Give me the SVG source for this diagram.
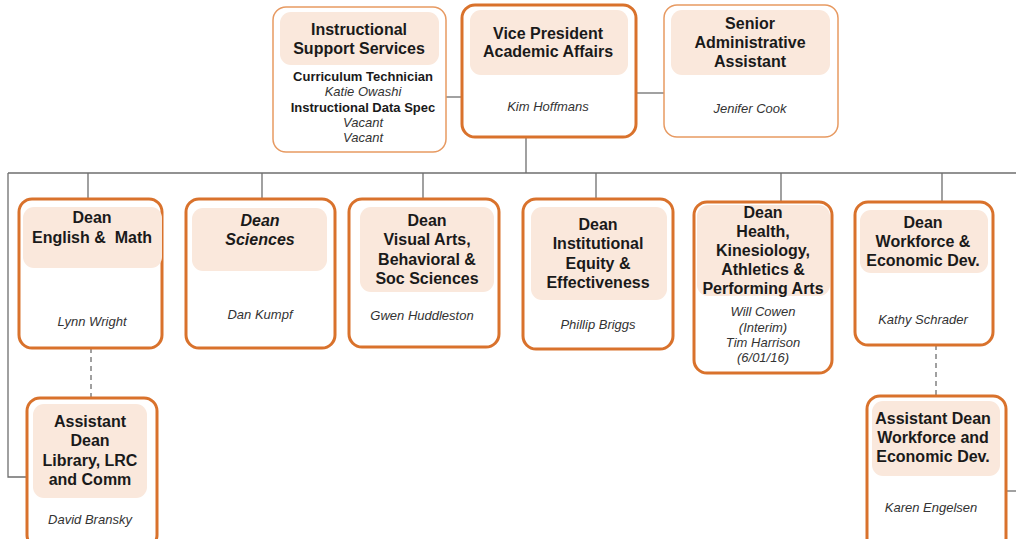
<svg xmlns="http://www.w3.org/2000/svg" width="1016" height="539" viewBox="0 0 1016 539">
<style>
.box{fill:#fff;stroke:#d9722c;stroke-width:3}
.thin{fill:#fff;stroke:#e79a62;stroke-width:1.5}
.hd{fill:#fae8dc}
.t{font-family:"Liberation Sans",Arial,sans-serif;font-weight:bold;font-size:16px;fill:#1a1a1a;text-anchor:middle}
.ti{font-style:italic}
.s{font-family:"Liberation Sans",Arial,sans-serif;font-weight:bold;font-size:13px;fill:#1a1a1a;text-anchor:middle}
.n{font-family:"Liberation Sans",Arial,sans-serif;font-style:italic;font-size:13px;fill:#333;text-anchor:middle}
.c{fill:none;stroke:#6e6e6e;stroke-width:1.3}
.d{fill:none;stroke:#6e6e6e;stroke-width:1.3;stroke-dasharray:5,4}
</style>
<rect width="1016" height="539" fill="#fff"/>
<g id="connectors">
<path class="c" d="M446 97H462"/>
<path class="c" d="M636 93H664"/>
<path class="c" d="M526 137V173"/>
<path class="c" d="M8 173H1016"/>
<path class="c" d="M8 173V477H27"/>
<path class="c" d="M88 173V199"/>
<path class="c" d="M262 173V199"/>
<path class="c" d="M423 173V199"/>
<path class="c" d="M596 173V199"/>
<path class="c" d="M781 173V202"/>
<path class="c" d="M942 173V202"/>
<path class="c" d="M1006 491H1016"/>
<path class="d" d="M91 348V398"/>
<path class="d" d="M936 345V395"/>
</g>
<g id="iss">
<rect class="thin" x="273" y="7" width="173" height="145" rx="13"/>
<rect class="hd" x="280" y="12" width="159" height="53" rx="11"/>
<text class="t" x="359" y="35">Instructional</text>
<text class="t" x="359" y="54">Support Services</text>
<text class="s" x="363" y="81">Curriculum Technician</text>
<text class="n" x="363" y="96">Katie Owashi</text>
<text class="s" x="363" y="112">Instructional Data Spec</text>
<text class="n" x="363" y="127">Vacant</text>
<text class="n" x="363" y="142">Vacant</text>
</g>
<g id="vp">
<rect class="box" x="462" y="5" width="174" height="132" rx="13"/>
<rect class="hd" x="470" y="10" width="158" height="65" rx="11"/>
<text class="t" x="548" y="39">Vice President</text>
<text class="t" x="548" y="57">Academic Affairs</text>
<text class="n" x="548" y="111">Kim Hoffmans</text>
</g>
<g id="senior">
<rect class="thin" x="664" y="5" width="174" height="132" rx="13"/>
<rect class="hd" x="671" y="10" width="159" height="65" rx="11"/>
<text class="t" x="750" y="29">Senior</text>
<text class="t" x="750" y="48">Administrative</text>
<text class="t" x="750" y="67">Assistant</text>
<text class="n" x="750" y="113">Jenifer Cook</text>
</g>
<g id="dean-english">
<rect class="box" x="19" y="199" width="143" height="149" rx="13"/>
<rect class="hd" x="23" y="207" width="139" height="61" rx="11"/>
<text class="t" x="92" y="223">Dean</text>
<text class="t" x="92" y="243" xml:space="preserve">English &amp;  Math</text>
<text class="n" x="92" y="326">Lynn Wright</text>
</g>
<g id="dean-sciences">
<rect class="box" x="186" y="199" width="149" height="149" rx="13"/>
<rect class="hd" x="192" y="208" width="135" height="63" rx="11"/>
<text class="t ti" x="260" y="226">Dean</text>
<text class="t ti" x="260" y="245">Sciences</text>
<text class="n" x="260" y="319">Dan Kumpf</text>
</g>
<g id="dean-visual">
<rect class="box" x="349" y="199" width="150" height="148" rx="13"/>
<rect class="hd" x="360" y="207" width="134" height="85" rx="11"/>
<text class="t" x="427" y="226">Dean</text>
<text class="t" x="427" y="245">Visual Arts,</text>
<text class="t" x="427" y="265">Behavioral &amp;</text>
<text class="t" x="427" y="284">Soc Sciences</text>
<text class="n" x="422" y="320">Gwen Huddleston</text>
</g>
<g id="dean-equity">
<rect class="box" x="523" y="199" width="150" height="150" rx="13"/>
<rect class="hd" x="531" y="207" width="136" height="93" rx="11"/>
<text class="t" x="598" y="230">Dean</text>
<text class="t" x="598" y="249">Institutional</text>
<text class="t" x="598" y="269">Equity &amp;</text>
<text class="t" x="598" y="288">Effectiveness</text>
<text class="n" x="598" y="329">Phillip Briggs</text>
</g>
<g id="dean-health">
<rect class="box" x="694" y="202" width="138" height="171" rx="13"/>
<rect class="hd" x="697" y="205" width="133" height="91" rx="11"/>
<text class="t" x="763" y="218">Dean</text>
<text class="t" x="763" y="237">Health,</text>
<text class="t" x="763" y="256">Kinesiology,</text>
<text class="t" x="763" y="275">Athletics &amp;</text>
<text class="t" x="763" y="294">Performing Arts</text>
<text class="n" x="763" y="316">Will Cowen</text>
<text class="n" x="763" y="332">(Interim)</text>
<text class="n" x="763" y="347">Tim Harrison</text>
<text class="n" x="763" y="362">(6/01/16)</text>
</g>
<g id="dean-workforce">
<rect class="box" x="855" y="202" width="138" height="143" rx="13"/>
<rect class="hd" x="860" y="210" width="128" height="63" rx="11"/>
<text class="t" x="923" y="228">Dean</text>
<text class="t" x="923" y="247">Workforce &amp;</text>
<text class="t" x="923" y="266">Economic Dev.</text>
<text class="n" x="923" y="324">Kathy Schrader</text>
</g>
<g id="asst-library">
<rect class="box" x="27" y="398" width="130" height="150" rx="13"/>
<rect class="hd" x="33" y="404" width="114" height="94" rx="11"/>
<text class="t" x="90" y="427">Assistant</text>
<text class="t" x="90" y="446">Dean</text>
<text class="t" x="90" y="466">Library, LRC</text>
<text class="t" x="90" y="485">and Comm</text>
<text class="n" x="90" y="524">David Bransky</text>
</g>
<g id="asst-workforce">
<rect class="box" x="867" y="396" width="139" height="155" rx="13"/>
<rect class="hd" x="872" y="401" width="128" height="75" rx="11"/>
<text class="t" x="933" y="424">Assistant Dean</text>
<text class="t" x="933" y="443">Workforce and</text>
<text class="t" x="933" y="462">Economic Dev.</text>
<text class="n" x="931" y="512">Karen Engelsen</text>
</g>
</svg>
